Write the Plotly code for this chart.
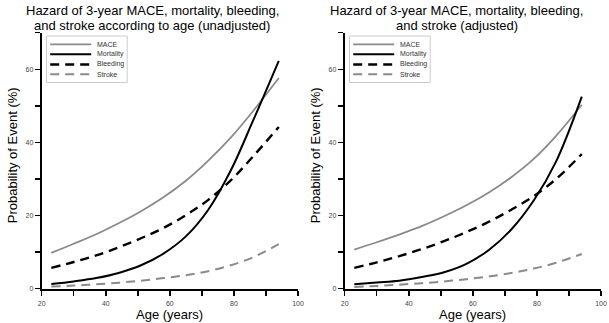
import plotly.graph_objects as go

# ---------------- data ----------------
ages = [23, 30, 37, 44, 51, 58, 65, 72, 79, 86, 94]

mace_unadj = [9.8, 12.3, 14.9, 17.9, 21.2, 25.0, 29.5, 35.0, 41.3, 48.6, 57.6]
mort_unadj = [1.3, 2.0, 2.9, 4.3, 6.4, 9.6, 14.3, 21.6, 32.3, 46.0, 62.3]
bleed_unadj = [5.7, 7.3, 9.1, 11.3, 13.8, 16.6, 20.1, 24.3, 29.6, 36.2, 44.2]
stroke_unadj = [0.6, 0.85, 1.2, 1.65, 2.2, 2.9, 3.7, 4.8, 6.4, 8.6, 12.2]

mace_adj = [10.7, 12.7, 14.8, 17.1, 19.8, 22.8, 26.3, 30.5, 35.5, 41.8, 50.3]
mort_adj = [1.2, 1.7, 2.2, 3.2, 4.5, 6.8, 10.6, 16.2, 24.1, 34.8, 52.5]
bleed_adj = [5.7, 7.2, 8.9, 10.8, 13.0, 15.5, 18.3, 21.6, 25.3, 30.0, 36.8]
stroke_adj = [0.45, 0.75, 1.1, 1.5, 2.0, 2.6, 3.35, 4.3, 5.5, 7.1, 9.5]

series_names = ["MACE", "Mortality", "Bleeding", "Stroke"]
title_lines = [
    ["Hazard of 3-year MACE, mortality, bleeding,", "and stroke according to age (unadjusted)"],
    ["Hazard of 3-year MACE, mortality, bleeding,", "and stroke (adjusted)"],
]
x_title = "Age (years)"
y_title = "Probability of Event (%)"
x_ticks = [20, 40, 60, 80, 100]
y_ticks = [0, 20, 40, 60]

# ---------------- geometry / styles ----------------
W, H = 609, 323
FONT = "Liberation Sans, Arial, sans-serif"
GRAY = "#8a8a8a"
styles = {
    "MACE": dict(color=GRAY, width=1.8, dash="solid"),
    "Mortality": dict(color="black", width=2, dash="solid"),
    "Bleeding": dict(color="black", width=2.4, dash="9px,6px"),
    "Stroke": dict(color=GRAY, width=2, dash="9px,6px"),
}


def px(xs):
    return xs / W


def py(ys):
    return 1 - ys / H


ax_left = [41.7, 344.7]
ax_w = 256.3
y_bot, y_top = 288.7, 32.7

panels = [
    (dict(zip(series_names, [mace_unadj, mort_unadj, bleed_unadj, stroke_unadj])), "x", "y"),
    (dict(zip(series_names, [mace_adj, mort_adj, bleed_adj, stroke_adj])), "x2", "y2"),
]

fig = go.Figure()
for data, xa, ya in panels:
    for name in series_names:
        fig.add_trace(go.Scatter(
            x=ages, y=data[name], mode="lines", name=name, showlegend=False,
            line=dict(shape="spline", smoothing=1.0, **styles[name]),
            xaxis=xa, yaxis=ya, hoverinfo="skip"))

axis_common = dict(showline=True, linewidth=2, linecolor="black", ticks="outside",
                   ticklen=5, tickwidth=1.5, tickcolor="black", showgrid=False,
                   zeroline=False, automargin=False,
                   tickfont=dict(size=7, color="#444", family=FONT))
minor = dict(dtick=10, tick0=0, ticks="outside", ticklen=5, tickwidth=1.5, tickcolor="black")

layout = dict(width=W, height=H, margin=dict(l=0, r=0, t=0, b=0),
              plot_bgcolor="white", paper_bgcolor="white",
              font=dict(family=FONT, color="black"), showlegend=False)

for i, (xa, ya) in enumerate([("xaxis", "yaxis"), ("xaxis2", "yaxis2")]):
    x0 = ax_left[i]
    layout[xa] = dict(axis_common, domain=[px(x0), px(x0 + ax_w)], range=[20, 100],
                      tickvals=x_ticks, ticktext=[str(v) for v in x_ticks],
                      minor=minor, anchor="y" if i == 0 else "y2", ticklabelstandoff=2)
    layout[ya] = dict(axis_common, domain=[py(y_bot), py(y_top)], range=[0, 70],
                      tickvals=y_ticks, ticktext=[str(v) for v in y_ticks],
                      minor=minor, anchor="x" if i == 0 else "x2")

fig.update_layout(**layout)

title_font = dict(size=13, color="black", family=FONT)
for i in range(2):
    x0 = ax_left[i]
    # panel title (two lines)
    for line, yc in zip(title_lines[i], [10.5, 25.5]):
        fig.add_annotation(text=line, x=px(152 + 304.5 * i), y=py(yc), xref="paper", yref="paper",
                           xanchor="center", yanchor="middle", showarrow=False, font=title_font)
    # axis titles
    fig.add_annotation(text=x_title, x=px(x0 + ax_w / 2), y=py(314), xref="paper", yref="paper",
                       xanchor="center", yanchor="middle", showarrow=False, font=title_font)
    fig.add_annotation(text=y_title, x=px(x0 - 29.5), y=py(155), xref="paper", yref="paper",
                       xanchor="center", yanchor="middle", showarrow=False, textangle=-90,
                       font=title_font)

# compact legends (one per panel)
leg_rows = [44.3, 54.3, 64.5, 74.3]
for i in range(2):
    x0 = ax_left[i]
    fig.add_shape(type="rect", xref="paper", yref="paper",
                  x0=px(x0 + 4.8), x1=px(x0 + 85.5), y0=py(36), y1=py(82.5),
                  line=dict(color="#cccccc", width=1), fillcolor="white", layer="above")
    for name, yr in zip(series_names, leg_rows):
        st = styles[name]
        fig.add_shape(type="line", xref="paper", yref="paper",
                      x0=px(x0 + 8.5), x1=px(x0 + 49.5), y0=py(yr), y1=py(yr),
                      line=dict(color=st["color"], width=st["width"], dash=st["dash"]),
                      layer="above")
        fig.add_annotation(text=name, x=px(x0 + 53), y=py(yr), xref="paper", yref="paper",
                           xanchor="left", yanchor="middle", showarrow=False,
                           font=dict(size=7, color="#333", family=FONT))

fig.write_html("out.html",
               config={"displayModeBar": False, "staticPlot": True},
               post_script="document.body.style.margin='0px';document.body.style.overflow='hidden';")
